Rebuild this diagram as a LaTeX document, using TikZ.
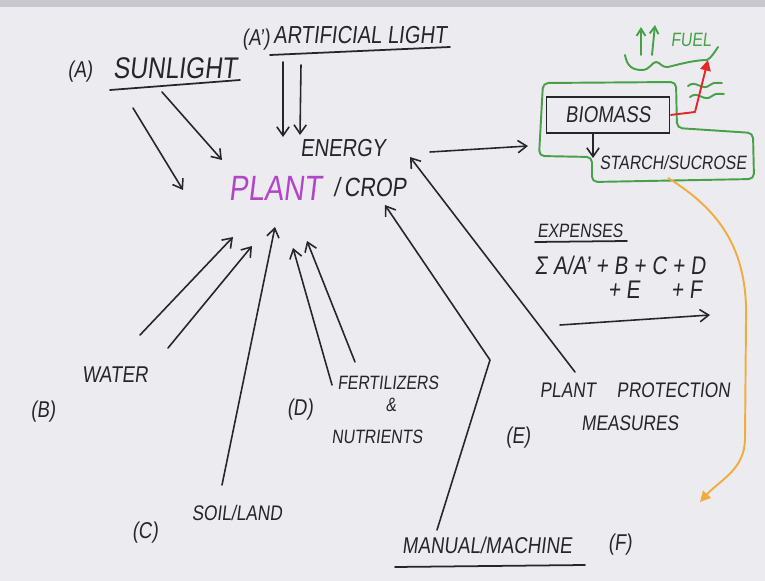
\documentclass[tikz,border=0pt]{standalone}
\usepackage{fontspec}
\setmainfont{Liberation Sans}[FakeStretch=0.82,FakeSlant=0.12]
\usetikzlibrary{arrows.meta, positioning}
\definecolor{board}{RGB}{236,236,240}
\definecolor{toolbar}{RGB}{200,200,206}
\definecolor{inkblack}{RGB}{38,38,42}
\definecolor{inkgreen}{RGB}{72,160,72}
\definecolor{inkpurple}{RGB}{178,70,200}
\definecolor{inkred}{RGB}{228,40,40}
\definecolor{inkorange}{RGB}{240,172,64}
\newcommand{\handfont}[1]{\fontsize{#1}{#1}\selectfont}

\begin{document}
\begin{tikzpicture}[
    x=0.02cm, y=-0.02cm,
    txt/.style={inner sep=0pt, text=inkblack},
    arr/.style={-{Straight Barb[length=5pt,width=7pt]}, line width=0.9pt,
                draw=inkblack, line cap=round, line join=round},
    uline/.style={line width=1pt, draw=inkblack, line cap=round},
    greenline/.style={line width=1.1pt, draw=inkgreen, line cap=round, line join=round}
  ]
    \fill[board] (0,0) rectangle (765,581);
    \fill[toolbar] (0,0) rectangle (765,7);
    \useasboundingbox (0,0) rectangle (765,581);

    % sources of light
    \node[txt, font=\handfont{13}] (labA)     at (80,72)  {(A)};
    \node[txt, font=\handfont{17}] (sun)      at (175,68) {SUNLIGHT};
    \node[txt, font=\handfont{13}] (labAp)    at (256,40) {(A')};
    \node[txt, font=\handfont{14}] (artlight) at (360,35) {ARTIFICIAL LIGHT};
    \draw[uline] (110,90) -- (240,80);
    \draw[uline] (270,55) -- (450,47);

    % the crop in the middle
    \node[txt, font=\handfont{14}] (energy) at (343,148) {ENERGY};
    \node[txt, font=\handfont{20}, text=inkpurple] (plant) at (275,188) {PLANT};
    \node[txt, font=\handfont{15}] (crop) at (370,187) {/\,CROP};

    % inputs
    \node[txt, font=\handfont{13}] (water) at (115,375) {WATER};
    \node[txt, font=\handfont{13}] (labB)  at (43,412)  {(B)};
    \node[txt, font=\handfont{12}] (soil)  at (237,513) {SOIL/LAND};
    \node[txt, font=\handfont{13}] (labC)  at (145,533) {(C)};
    \node[txt, font=\handfont{11}] (fert)  at (388,383) {FERTILIZERS};
    \node[txt, font=\handfont{11}] (amp)   at (391,405) {\&};
    \node[txt, font=\handfont{11}] (nutr)  at (377,437) {NUTRIENTS};
    \node[txt, font=\handfont{13}] (labD)  at (300,410) {(D)};
    \node[txt, font=\handfont{12}] (protect)  at (635,390) {PLANT\quad PROTECTION};
    \node[txt, font=\handfont{12}] (measures) at (630,423) {MEASURES};
    \node[txt, font=\handfont{13}] (labE)  at (518,438) {(E)};
    \node[txt, font=\handfont{13}] (manual) at (487,545) {MANUAL/MACHINE};
    \node[txt, font=\handfont{13}] (labF)  at (620,545) {(F)};
    \draw[uline] (395,567) -- (585,565);

    % expenses
    \node[txt, font=\handfont{11}] (expenses) at (580,231) {EXPENSES};
    \draw[uline] (535,242) -- (627,241);
    \node[txt, font=\handfont{14.5}] (sumA) at (620,265) {Σ A/A' + B + C + D};
    \node[txt, font=\handfont{14.5}] (sumB) at (655,290) {+ E \quad + F};
    \draw[arr] ([shift={(-95,35)}]sumB.center) -- ([shift={(55,25)}]sumB.center);

    % biomass block
    \node[draw=inkblack, line width=1pt, minimum width=2.46cm, minimum height=0.72cm,
          inner sep=0pt, font=\handfont{13}, text=inkblack] (biomass) at (608,115) {BIOMASS\hspace{0.5cm}};
    \node[txt, font=\handfont{11}] (starch) at (673,163) {STARCH/SUCROSE};
    \draw[greenline, rounded corners=3pt] (543,83) -- (676,82) -- (677,128) -- (753,133)
        -- (754,179) -- (592,182) -- (592,157) -- (539,156) -- cycle;
    \coordinate (boxin) at (528,146);
    \draw[arr] ([shift={(-15,19)}]biomass.center) -- ([shift={(-80,-5)}]starch.center);

    % fuel
    \node[txt, font=\handfont{11}, text=inkgreen] (fuel) at (691,40) {FUEL};
    \draw[greenline, -{Straight Barb[length=4pt,width=5pt]}] ([shift={(-50,15)}]fuel.center) -- ([shift={(-50,-13)}]fuel.center);
    \draw[greenline, -{Straight Barb[length=4pt,width=5pt]}] ([shift={(-39,15)}]fuel.center) -- ([shift={(-36,-15)}]fuel.center);
    \draw[greenline] (625,55) .. controls (627,66) and (632,70) .. (642,70)
        .. controls (650,70) and (652,62) .. (656,62) .. controls (660,62) and (662,68) .. (668,67)
        .. controls (680,64) and (695,60) .. (707,60) .. controls (711,58) and (714,53) .. (718,47);
    \draw[greenline] (688,86) .. controls (696,79) and (702,92) .. (710,85) .. controls (715,81) and (718,84) .. (722,83);
    \draw[greenline] (690,97) .. controls (698,90) and (704,103) .. (712,96) .. controls (717,92) and (720,95) .. (724,94);
    \coordinate (redbend) at (695,112);
    \draw[inkred, line width=1.1pt, -{Triangle[length=6pt,width=6pt]}, line join=round]
        (biomass.east) -- (redbend) -- ([shift={(17,20)}]fuel.center);

    % starch goes down
    \coordinate (orangeend) at (700,502);
    \draw[inkorange, line width=1.1pt, -{Triangle[length=6pt,width=6pt]}]
        ([shift={(-5,15)}]starch.center) .. controls (720,210) and (748,250) .. (746,320)
        -- (745,440) .. controls (744,470) and (720,480) .. (orangeend);

    % arrows into the crop
    \draw[arr] ([shift={(-42,40)}]sun.center) -- ([shift={(-92,2)}]plant.center);
    \draw[arr] ([shift={(-13,24)}]sun.center) -- ([shift={(-53,-28)}]plant.center);
    \draw[arr] ([shift={(-77,27)}]artlight.center) -- ([shift={(-60,-11)}]energy.center);
    \draw[arr] ([shift={(-59,30)}]artlight.center) -- ([shift={(-43,-13)}]energy.center);
    \draw[arr] ([shift={(87,4)}]energy.center) -- (boxin);
    \draw[arr] ([shift={(25,-40)}]water.center) -- ([shift={(-42,49)}]plant.center);
    \draw[arr] ([shift={(53,-27)}]water.center) -- ([shift={(-23,58)}]plant.center);
    \draw[arr] ([shift={(-15,-28)}]soil.center) -- ([shift={(0,39)}]plant.center);
    \draw[arr] ([shift={(-56,2)}]fert.center) -- ([shift={(18,60)}]plant.center);
    \draw[arr] ([shift={(-33,-21)}]fert.center) -- ([shift={(32,53)}]plant.center);
    \coordinate (manbend) at (490,360);
    \draw[arr] ([shift={(-50,-15)}]manual.center) -- (manbend) -- ([shift={(15,18)}]crop.center);
    \draw[arr] ([shift={(-60,-18)}]protect.center) -- ([shift={(67,9)}]energy.center);
\end{tikzpicture}
\end{document}
